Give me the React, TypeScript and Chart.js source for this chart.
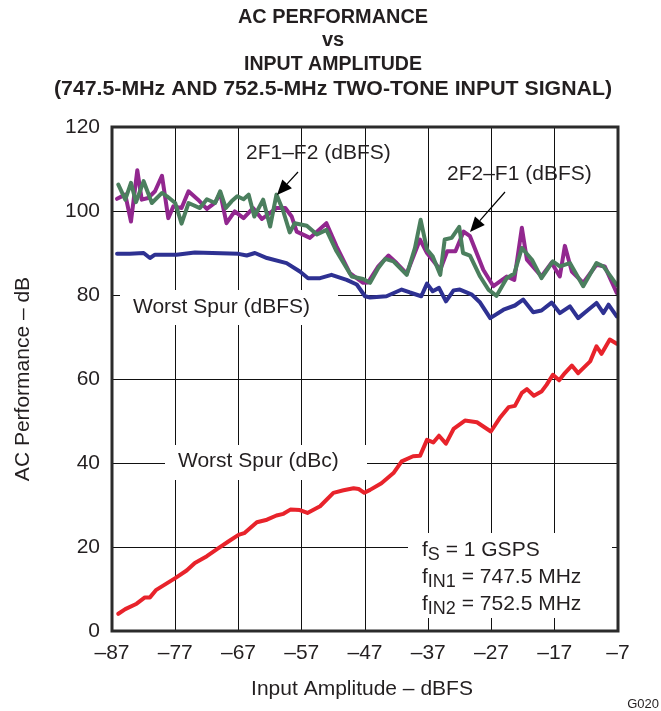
import React, { useEffect, useRef } from "react";
import { Chart, registerables } from "chart.js";

Chart.register(...registerables);

// ---------- data ----------
const TITLE_LINES = [
  "AC PERFORMANCE",
  "vs",
  "INPUT AMPLITUDE",
  "(747.5-MHz AND 752.5-MHz TWO-TONE INPUT SIGNAL)",
];
const X_TITLE = "Input Amplitude – dBFS";
const Y_TITLE = "AC Performance – dB";
const X_MIN = -87;
const X_MAX = -7;
const X_STEP = 10;
const Y_MIN = 0;
const Y_MAX = 120;
const Y_STEP = 20;

const dbcX = [-86, -84.9, -83.1, -81.8, -81, -80, -77, -75.2, -73.9, -72, -70.4, -68.6, -67, -66.1, -64.1, -62.5, -61, -59.9, -58.8, -57.3, -56.1, -54.1, -52, -50.4, -48.8, -48, -47.1, -46.2, -44.4, -42.5, -41.2, -39.4, -38.3, -37.2, -36.2, -35.3, -34.2, -33, -31.2, -29.3, -27.1, -25.7, -24.3, -23.3, -22.2, -21.4, -20.3, -19.1, -18.3, -17.3, -16.3, -15.4, -14.3, -13.3, -11.4, -10.4, -9.6, -8.3, -7.2];
const dbcY = [4.1, 5.2, 6.5, 8, 8, 9.8, 12.6, 14.4, 16.2, 17.8, 19.5, 21.3, 22.9, 23.3, 25.9, 26.5, 27.5, 27.9, 28.9, 28.8, 28.1, 29.7, 32.9, 33.5, 34, 33.8, 32.9, 33.6, 35.2, 37.6, 40.4, 41.6, 41.7, 45.5, 44.9, 46.5, 44.6, 48.1, 50.1, 49.7, 47.5, 50.7, 53.3, 53.6, 56.7, 57.6, 56, 57, 58.6, 61, 59.7, 61.4, 63.2, 61.4, 64.2, 67.8, 66, 69.4, 68.4];

const dbfsX = [-86.2, -84.2, -82, -81, -80.2, -76.8, -73.9, -67, -65.7, -64.4, -62.5, -59.4, -57.3, -56, -54.1, -52.3, -49.9, -48.3, -47, -46.2, -43.6, -41.2, -39.9, -38.1, -37.2, -36.3, -35.3, -34.2, -33, -32, -30.1, -28.8, -27.2, -25.1, -23.3, -22, -20.4, -19.1, -17.5, -16.2, -14.6, -13.3, -11.7, -10.4, -9.3, -8.5, -7.2];
const dbfsY = [89.8, 89.8, 90, 88.8, 89.6, 89.6, 90.1, 89.8, 89.4, 90, 88.8, 87.6, 85.6, 84, 84, 84.8, 83.6, 82.5, 79.7, 79.4, 79.7, 81.3, 80.6, 79.7, 82.7, 80.9, 81.7, 78.5, 81.1, 81.3, 80.1, 78.2, 74.5, 76.5, 77.5, 78.9, 75.9, 76.3, 78.2, 75.7, 77.3, 74.5, 76.5, 78.1, 75.7, 77.7, 74.9];

const f2f1X = [-86.2, -84.9, -84, -83, -82.3, -81.3, -80.2, -79.1, -78.1, -77.3, -76, -74.9, -73.4, -72, -70.7, -69.9, -68.9, -67.6, -66.2, -64.7, -63.3, -61, -59.6, -58.6, -57.8, -55.7, -53.1, -51.5, -49.4, -47.3, -46.5, -44.9, -43.3, -42, -40.4, -38.3, -37.2, -35.1, -34, -32.7, -31.4, -30.4, -28.3, -26.7, -24.6, -23.4, -22.2, -21.4, -19.1, -17.5, -16.2, -15.4, -14.3, -12.5, -10.4, -9.1, -7.2];
const f2f1Y = [102.9, 103.9, 97.5, 109.7, 102.7, 103.1, 104.7, 108.4, 98.3, 101.1, 100.7, 104.7, 102.7, 100.5, 102, 104.3, 97.1, 99.9, 98.3, 100.7, 98.1, 100.7, 100.7, 98.7, 95.1, 93.6, 97.1, 91.6, 85.2, 82.9, 83.0, 86.8, 89.4, 87.6, 85.1, 93.2, 90, 86, 90.4, 90.4, 95.1, 94, 86, 82.1, 84.4, 83.6, 96, 88.4, 84.4, 87.7, 84.4, 91.7, 85.6, 82.9, 87.2, 86.8, 80.5];

const f1f2X = [-86, -84.9, -84, -83.2, -82, -80.7, -79.1, -78.3, -77, -76, -74.9, -73.1, -72, -70.7, -69.9, -69, -68.1, -67.2, -66.2, -65.4, -64.5, -63.1, -62, -61, -60, -58.9, -58.1, -56.2, -54.6, -53.1, -51.5, -49.1, -47.3, -46.2, -44.9, -43.8, -42.5, -40.4, -39.1, -38.2, -37.2, -36.3, -35.1, -34.4, -33.3, -32.1, -31.5, -30.4, -28.8, -27.5, -26.2, -24.6, -23.4, -22.2, -20.6, -19.1, -17.3, -16.2, -14.6, -12.5, -10.4, -9.3, -7.2];
const f1f2Y = [106.3, 102.7, 106.7, 102.1, 107.1, 101.9, 104.3, 103.5, 101.9, 97, 101.9, 100.7, 102.8, 101.9, 104.7, 100.7, 102.3, 103.5, 102.8, 103.9, 98.7, 102.7, 96.3, 103.9, 100.3, 94.9, 97.1, 96.5, 94.4, 95.5, 90.4, 84.4, 83.8, 82.9, 86.4, 88.6, 88, 84.8, 91.2, 97.9, 90.8, 89.2, 84.8, 93.2, 93.6, 96.2, 90, 89.4, 84.4, 81.3, 79.8, 84, 85.1, 91.2, 88.4, 84, 88, 86.8, 87.6, 82.1, 87.6, 86.8, 82.4];

const LABEL_2F1 = "2F1–F2 (dBFS)";
const LABEL_2F2 = "2F2–F1 (dBFS)";
const LABEL_SPUR_DBFS = "Worst Spur (dBFS)";
const LABEL_SPUR_DBC = "Worst Spur (dBc)";
const COND_LINES = [
  ["f", "S", " = 1 GSPS"],
  ["f", "IN1", " = 747.5 MHz"],
  ["f", "IN2", " = 752.5 MHz"],
];
const FIG_ID = "G020";

// ---------- styles ----------
const FONT = '"Liberation Sans", Arial, Helvetica, sans-serif';
const TEXT = "#231f20";
const RED = "#e8232b";
const BLUE = "#2e3192";
const PURPLE = "#92278f";
const GREEN = "#4b7f5e";

const pts = (xs: number[], ys: number[]) => xs.map((x, i) => ({ x, y: ys[i] }));

function arrow(ctx: CanvasRenderingContext2D, x1: number, y1: number, x2: number, y2: number) {
  const ang = Math.atan2(y2 - y1, x2 - x1);
  const len = 15;
  const half = 6.5;
  const bx = x2 - len * Math.cos(ang);
  const by = y2 - len * Math.sin(ang);
  ctx.beginPath();
  ctx.moveTo(x1, y1);
  ctx.lineTo(bx, by);
  ctx.strokeStyle = "#000";
  ctx.lineWidth = 1.2;
  ctx.stroke();
  ctx.beginPath();
  ctx.moveTo(x2, y2);
  ctx.lineTo(bx + half * Math.sin(ang), by - half * Math.cos(ang));
  ctx.lineTo(bx - half * Math.sin(ang), by + half * Math.cos(ang));
  ctx.closePath();
  ctx.fillStyle = "#000";
  ctx.fill();
}

const decor = {
  id: "decor",
  beforeDatasetsDraw(chart: any) {
    const ctx = chart.ctx as CanvasRenderingContext2D;
    ctx.save();
    ctx.fillStyle = "#fff";
    ctx.fillRect(120, 290, 218, 35);
    ctx.fillRect(165, 445, 202, 35);
    ctx.fillRect(408, 533, 204, 85);
    ctx.restore();
  },
  afterDatasetsDraw(chart: any) {
    const ctx = chart.ctx as CanvasRenderingContext2D;
    const a = chart.chartArea;
    ctx.save();
    // frame
    ctx.strokeStyle = "#2b2b2b";
    ctx.lineWidth = 3;
    ctx.strokeRect(a.left, a.top, a.right - a.left, a.bottom - a.top);

    // title
    ctx.fillStyle = TEXT;
    ctx.textAlign = "center";
    ctx.textBaseline = "middle";
    ctx.font = "bold 20px " + FONT;
    const ty = [17, 40, 64, 89];
    const tw = [190, 0, 178, 558];
    TITLE_LINES.forEach((t, i) => {
      const w = ctx.measureText(t).width;
      const sx = tw[i] ? tw[i] / w : 1;
      ctx.save();
      ctx.translate(333, ty[i]);
      ctx.scale(sx, 1);
      ctx.fillText(t, 0, 0);
      ctx.restore();
    });

    // axis titles
    ctx.font = "21px " + FONT;
    ctx.textBaseline = "alphabetic";
    ctx.fillText(X_TITLE, 362, 695);
    ctx.save();
    ctx.translate(29, (a.top + a.bottom) / 2);
    ctx.rotate(-Math.PI / 2);
    ctx.fillText(Y_TITLE, 0, 0);
    ctx.restore();

    // labels
    ctx.textAlign = "left";
    ctx.textBaseline = "middle";
    ctx.fillText(LABEL_2F1, 246, 153);
    ctx.fillText(LABEL_2F2, 447, 174);
    ctx.fillText(LABEL_SPUR_DBFS, 133, 307);
    ctx.fillText(LABEL_SPUR_DBC, 178, 461);

    // conditions
    ctx.textBaseline = "alphabetic";
    const baselines = [556, 583, 609.5];
    COND_LINES.forEach((parts, i) => {
      let x = 422;
      const y = baselines[i];
      ctx.font = "21px " + FONT;
      ctx.fillText(parts[0], x, y);
      x += ctx.measureText(parts[0]).width;
      ctx.font = "18px " + FONT;
      ctx.fillText(parts[1], x, y + 4);
      x += ctx.measureText(parts[1]).width;
      ctx.font = "21px " + FONT;
      ctx.fillText(parts[2], x, y);
    });

    // figure id
    ctx.font = "13px " + FONT;
    ctx.textAlign = "right";
    ctx.fillText(FIG_ID, 659, 708);

    // arrows
    arrow(ctx, 298, 172, 277, 195);
    arrow(ctx, 505, 192, 470, 232);
    ctx.restore();
  },
};

const minusFmt = (v: any) => {
  const n = Number(v);
  return n < 0 ? "–" + Math.abs(n) : String(n);
};

export default function App() {
  const ref = useRef<HTMLCanvasElement>(null);
  useEffect(() => {
    document.body.style.margin = "0";
    const line = (data: any, color: string) => ({
      data,
      borderColor: color,
      backgroundColor: color,
      borderWidth: 4,
      pointRadius: 0,
      tension: 0,
      fill: false,
      borderJoinStyle: "round" as const,
      borderCapStyle: "round" as const,
    });
    const chart = new Chart(ref.current!, {
      type: "line",
      data: {
        datasets: [
          line(pts(f1f2X, f1f2Y), GREEN),
          line(pts(f2f1X, f2f1Y), PURPLE),
          line(pts(dbfsX, dbfsY), BLUE),
          line(pts(dbcX, dbcY), RED),
        ],
      },
      options: {
        animation: false,
        responsive: false,
        devicePixelRatio: 1,
        layout: { padding: { left: 0, top: 127, right: 43, bottom: 0 } },
        plugins: { legend: { display: false }, title: { display: false }, tooltip: { enabled: false } },
        scales: {
          x: {
            type: "linear",
            min: X_MIN,
            max: X_MAX,
            afterFit: (s: any) => { s.height = 80; },
            afterBuildTicks: (s: any) => {
              const t = [];
              for (let v = X_MIN; v <= X_MAX; v += X_STEP) t.push({ value: v });
              s.ticks = t;
            },
            grid: { color: "#111", lineWidth: 1, drawTicks: false },
            border: { display: false },
            ticks: {
              padding: 10,
              color: TEXT,
              font: { family: FONT, size: 21 },
              callback: minusFmt,
              maxRotation: 0,
              autoSkip: false,
            },
          },
          y: {
            type: "linear",
            min: Y_MIN,
            max: Y_MAX,
            afterFit: (s: any) => { s.width = 112; },
            grid: { color: "#111", lineWidth: 1, drawTicks: false },
            border: { display: false },
            ticks: {
              stepSize: Y_STEP,
              padding: 12,
              color: TEXT,
              font: { family: FONT, size: 21 },
              callback: minusFmt,
            },
          },
        },
      },
      plugins: [decor],
    });
    return () => chart.destroy();
  }, []);
  return (
    <div style={{ width: 661, height: 711, background: "#fff" }}>
      <canvas ref={ref} width={661} height={711} style={{ display: "block", width: 661, height: 711 }} />
    </div>
  );
}
